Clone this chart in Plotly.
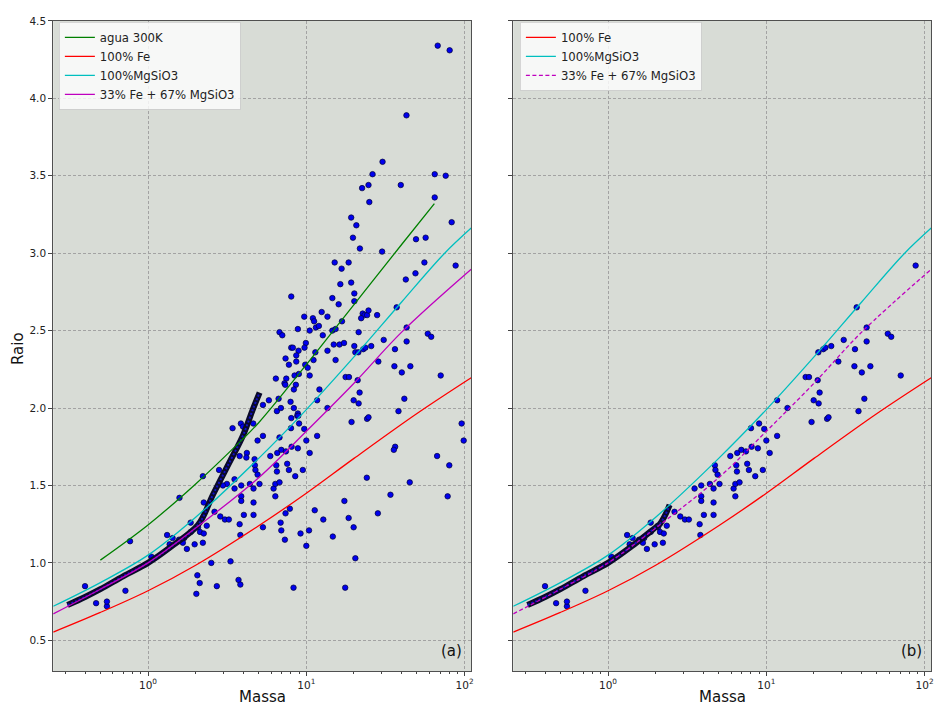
import plotly.graph_objects as go

# ---------------- data ----------------
# planets shown in both panels (rocky region)
mass_rocky = [0.40, 0.47, 0.55, 0.55, 0.72, 1.05, 1.32, 1.43, 1.57, 1.69, 1.66, 1.37, 1.76,
              1.86, 1.86, 1.97, 2.07, 2.13, 2.25, 2.22, 2.35, 2.63, 2.86, 3.06, 3.24, 3.52,
              3.88, 3.88, 3.88, 3.79, 3.83, 4.03, 4.40, 4.64, 4.64, 4.64, 4.73, 4.77, 4.92,
              5.06, 5.92, 6.21, 6.37, 6.37, 6.46, 6.52, 6.55, 6.77, 6.95, 7.43, 7.57, 7.76,
              8.07, 8.84, 8.51, 9.5, 8.0, 9.0, 9.7, 10.0, 10.5, 11.7, 11.7, 13.6, 17.7, 18.6,
              21.1, 21.7, 19.9, 21.4, 19.3, 24.2, 24.7, 21.3, 22.9, 23.6, 25.7, 30.8, 36.3,
              37.2, 43.0, 43.0, 58.5, 61.5, 87.7, 28.5, 36.0, 40.1, 45.4, 41.6, 38.2, 70.6]
radius_rocky = [0.85, 0.74, 0.72, 0.75, 0.82, 1.04, 1.18, 1.16, 1.15, 1.16, 1.13, 1.12, 1.09,
                1.26, 1.20, 1.12, 1.23, 1.20, 1.19, 1.13, 1.24, 1.33, 1.30, 1.28, 1.28, 1.48,
                1.50, 1.43, 1.40, 1.25, 1.18, 1.31, 1.51, 1.48, 1.39, 1.31, 1.63, 1.60, 1.57,
                1.51, 1.69, 1.48, 1.51, 1.43, 1.63, 1.59, 1.71, 1.52, 1.73, 1.72, 1.64, 1.60,
                1.75, 1.74, 1.56, 1.60, 1.87, 1.90, 1.865, 1.79, 1.71, 2.05, 1.82, 2.00, 2.20, 2.20,
                2.18, 2.10, 2.05, 2.03, 1.91, 1.93, 1.94, 2.36, 2.38, 2.39, 2.40, 2.44, 2.38,
                2.65, 2.52, 2.43, 2.48, 2.46, 2.92, 2.30, 2.27, 2.23, 2.27, 2.06, 1.98, 2.21]

# planets shown only in panel (a)
mass_other = [67.6, 80.4, 42.9, 30.3, 26.2, 64.7, 75.9, 22.5, 24.7, 39.5, 25.0, 64.7, 19.2,
              20.7, 82.8, 19.7, 49.3, 56.7, 21.8, 30.1, 15.1, 18.5, 55.7, 16.7, 16.4, 19.2,
              42.5, 48.9, 20.1, 14.6, 16.0, 20.1, 12.5, 13.6, 11.0, 11.2, 11.5, 12.0, 10.5,
              14.6, 15.3, 16.8, 22.7, 23.3, 24.2, 24.7, 22.2, 28.0, 21.4, 12.7, 14.9, 16.2,
              17.3, 11.4, 11.1, 13.6, 15.3, 20.1, 20.4, 10.5, 12.1, 17.4, 36.4, 35.7, 67.0,
              80.0, 24.1, 45.0, 34.0, 78.1, 95.7, 98.6, 17.6, 20.4, 19.9, 18.5, 14.7, 12.8,
              11.3, 28.3, 10.4, 10.0, 9.19, 6.88, 6.95, 7.32, 7.87, 7.39, 8.3, 5.32, 2.51,
              3.32, 2.05, 2.12, 2.02, 2.72, 3.73, 3.83, 0.77, 1.58, 2.22, 2.25, 2.81, 3.15,
              2.97, 3.52, 3.79, 4.21, 4.18, 4.71, 3.42, 3.86, 3.98, 4.62, 6.77, 5.32, 4.92,
              5.80, 6.68, 5.32, 6.52, 6.91, 7.95, 8.34, 8.84, 8.76, 8.89, 8.03, 6.42, 7.47,
              7.28, 7.36, 8.43, 8.97, 8.59, 8.34, 9.84, 10.2, 8.03, 9.70, 8.84, 6.77, 7.05,
              9.93, 9.74, 8.03, 8.22, 8.93, 8.64, 7.39, 8.64, 7.76]
radius_other = [4.34, 4.31, 3.89, 3.59, 3.51, 3.51, 3.50, 3.42, 3.44, 3.44, 3.33, 3.36, 3.23,
                3.18, 3.20, 3.10, 3.09, 3.10, 3.03, 3.01, 2.94, 2.94, 2.94, 2.90, 2.80, 2.81,
                2.83, 2.87, 2.74, 2.71, 2.67, 2.69, 2.62, 2.59, 2.58, 2.56, 2.52, 2.53, 2.50,
                2.50, 2.51, 2.56, 2.61, 2.60, 2.60, 2.63, 2.58, 2.60, 2.49, 2.47, 2.41, 2.41,
                2.42, 2.36, 2.31, 2.37, 2.31, 2.40, 2.36, 2.21, 2.12, 1.40, 1.75, 1.73, 1.69,
                1.63, 1.55, 1.52, 1.44, 1.43, 1.90, 1.79, 0.84, 1.03, 1.23, 1.29, 1.17, 1.28,
                1.34, 1.32, 1.21, 1.11, 1.19, 1.26, 1.21, 1.15, 1.35, 1.32, 0.84, 1.23, 1.00,
                1.01, 0.92, 0.87, 0.80, 0.85, 0.89, 0.86, 1.14, 1.42, 1.56, 1.39, 1.60, 1.51,
                1.50, 1.54, 1.69, 1.71, 1.68, 1.67, 1.87, 1.90, 1.88, 1.90, 1.81, 1.82, 1.79,
                2.05, 2.06, 2.02, 1.98, 2.00, 2.04, 2.00, 1.965, 1.95, 1.95, 1.935, 2.19, 2.19,
                2.16, 2.15, 2.21, 2.22, 2.15, 2.12, 2.28, 2.26, 2.72, 2.59, 2.51, 2.49, 2.47,
                2.42, 2.39, 2.39, 2.39, 2.37, 2.34, 2.32, 2.30, 2.28]

# dense model track (thick dark band)
track_a_mass = [0.31, 0.4, 0.5, 0.7, 1.0, 1.4, 2.07, 2.57, 3.28, 3.98, 4.6, 5.07]
track_a_radius = [0.728, 0.78, 0.83, 0.915, 1.0, 1.105, 1.245, 1.44, 1.652, 1.823, 1.993, 2.1]
track_b_mass = [0.31, 0.4, 0.5, 0.7, 1.0, 1.4, 2.03, 2.12, 2.3, 2.45]
track_b_radius = [0.728, 0.78, 0.83, 0.915, 1.0, 1.105, 1.235, 1.25, 1.31, 1.375]

# composition curves
water_mass = [0.5, 1.0, 2.0, 3.79, 5.0, 10.0, 20.0, 40.0, 64.4]
water_radius = [1.018, 1.245, 1.51, 1.78, 1.905, 2.28, 2.668, 3.056, 3.32]
fe_mass = [0.252, 0.5, 1.0, 2.0, 5.0, 10.0, 20.0, 50.0, 110.0]
fe_radius = [0.553, 0.68, 0.82, 0.985, 1.24, 1.45, 1.675, 1.965, 2.196]
mgsio3_mass = [0.252, 0.5, 1.0, 2.0, 5.0, 10.0, 20.0, 40.0, 74.0, 110.0]
mgsio3_radius = [0.72, 0.873, 1.05, 1.295, 1.675, 1.99, 2.33, 2.685, 2.995, 3.162]
mix_mass = [0.252, 0.5, 1.0, 2.0, 5.0, 10.0, 20.0, 40.0, 110.0]
mix_radius = [0.671, 0.83, 1.0, 1.225, 1.55, 1.85, 2.16, 2.49, 2.896]

x_tick_vals = [1, 10, 100]
x_tick_text = ["10<sup>0</sup>", "10<sup>1</sup>", "10<sup>2</sup>"]
x_minor_vals = [0.3, 0.4, 0.5, 0.6, 0.7, 0.8, 0.9, 2, 3, 4, 5, 6, 7, 8, 9,
                20, 30, 40, 50, 60, 70, 80, 90]

# ---------------- styling ----------------
FONT = "DejaVu Sans"
BG = "#d8dcd6"
PT_FILL = "#0000ee"
PT_EDGE = "#000033"
C_GREEN, C_RED, C_CYAN, C_MAG = "#008000", "#ff0000", "#00bfbf", "#bf00bf"
LW = 1.3

fig = go.Figure()


def add_points(mx, ry, xa, ya):
    fig.add_trace(go.Scatter(
        x=mx, y=ry, xaxis=xa, yaxis=ya, mode="markers", showlegend=False,
        marker=dict(size=5.5, color=PT_FILL, line=dict(color=PT_EDGE, width=0.7)),
        hoverinfo="skip"))


def add_track(mx, ry, xa, ya):
    fig.add_trace(go.Scatter(x=mx, y=ry, xaxis=xa, yaxis=ya, mode="lines",
                             line=dict(color="#0a0a2a", width=6, shape="spline"),
                             showlegend=False, hoverinfo="skip"))
    fig.add_trace(go.Scatter(x=mx, y=ry, xaxis=xa, yaxis=ya, mode="lines",
                             line=dict(color="#1010c8", width=2, shape="spline", dash="2px,2px"),
                             showlegend=False, hoverinfo="skip"))


def add_curve(mx, ry, xa, ya, name, color, legend, dash="solid"):
    fig.add_trace(go.Scatter(x=mx, y=ry, xaxis=xa, yaxis=ya, mode="lines", name=name,
                             line=dict(color=color, width=LW, shape="spline", dash=dash),
                             legend=legend, hoverinfo="skip"))


# panel (a)
add_points(mass_other, radius_other, "x", "y")
add_points(mass_rocky, radius_rocky, "x", "y")
add_track(track_a_mass, track_a_radius, "x", "y")
add_curve(water_mass, water_radius, "x", "y", "agua 300K", C_GREEN, "legend")
add_curve(fe_mass, fe_radius, "x", "y", "100% Fe", C_RED, "legend")
add_curve(mgsio3_mass, mgsio3_radius, "x", "y", "100%MgSiO3", C_CYAN, "legend")
add_curve(mix_mass, mix_radius, "x", "y", "33% Fe + 67% MgSiO3", C_MAG, "legend")

# panel (b)
add_points(mass_rocky, radius_rocky, "x2", "y2")
add_track(track_b_mass, track_b_radius, "x2", "y2")
add_curve(fe_mass, fe_radius, "x2", "y2", "100% Fe", C_RED, "legend2")
add_curve(mgsio3_mass, mgsio3_radius, "x2", "y2", "100%MgSiO3", C_CYAN, "legend2")
add_curve(mix_mass, mix_radius, "x2", "y2", "33% Fe + 67% MgSiO3", C_MAG, "legend2",
          dash="4px,2.5px")

W, H = 935, 707
L1, R1 = 53.3, 472.3
L2, R2 = 514.3, 933.3
TOP, BOT = 15.0, 671.0

grid = dict(showgrid=True, gridcolor="#a3a3a3", gridwidth=0.8, griddash="3px,2px")
frame = dict(showline=True, linecolor="#505050", linewidth=1, mirror=True, zeroline=False)
tickfont = dict(family=FONT, size=10.5, color="#222222")


def xaxis(dom, anchor):
    return dict(type="log", domain=dom, anchor=anchor, range=[-0.599, 2.042],
                tickmode="array", tickvals=x_tick_vals, ticktext=x_tick_text,
                ticks="outside", ticklen=4, tickwidth=1, tickcolor="#444444",
                tickfont=tickfont,
                minor=dict(tickmode="array", tickvals=x_minor_vals, ticks="outside",
                           ticklen=2, tickwidth=0.8, tickcolor="#444444", showgrid=False),
                **grid, **frame)


def yaxis(anchor, labels):
    return dict(domain=[(H - BOT) / H, (H - TOP) / H], anchor=anchor, range=[0.3, 4.5],
                tickmode="linear", tick0=0.5, dtick=0.5, tickformat=".1f",
                ticks="outside", ticklen=4, tickwidth=1, tickcolor="#444444",
                showticklabels=labels, tickfont=tickfont, **grid, **frame)


legend_common = dict(bgcolor="rgba(255,255,255,0.8)", bordercolor="rgba(204,204,204,0.8)",
                     borderwidth=1, font=dict(family=FONT, size=11.7, color="#222222"),
                     xanchor="left", yanchor="top", itemwidth=30, tracegroupgap=0)

fig.update_layout(
    width=W, height=H, margin=dict(l=0, r=0, t=0, b=0),
    paper_bgcolor="white", plot_bgcolor=BG,
    font=dict(family=FONT, color="#222222"),
    xaxis=xaxis([L1 / W, R1 / W], "y"),
    yaxis=yaxis("x", True),
    xaxis2=xaxis([L2 / W, R2 / W], "y2"),
    yaxis2=yaxis("x2", False),
    legend=dict(x=59 / W, y=1 - 16 / H, **legend_common),
    legend2=dict(x=521 / W, y=1 - 16 / H, **legend_common),
    showlegend=True,
    annotations=[
        dict(text="Massa", x=(L1 + R1) / 2 / W, y=1 - 697 / H, xref="paper", yref="paper",
             showarrow=False, xanchor="center", yanchor="middle",
             font=dict(family=FONT, size=15, color="#111111")),
        dict(text="Massa", x=(L2 + R2) / 2 / W, y=1 - 697 / H, xref="paper", yref="paper",
             showarrow=False, xanchor="center", yanchor="middle",
             font=dict(family=FONT, size=15, color="#111111")),
        dict(text="Raio", x=18 / W, y=1 - 345 / H, xref="paper", yref="paper",
             showarrow=False, xanchor="center", yanchor="middle", textangle=-90,
             font=dict(family=FONT, size=15, color="#111111")),
        dict(text="(a)", x=452 / W, y=1 - 651 / H, xref="paper", yref="paper",
             showarrow=False, xanchor="center", yanchor="middle",
             font=dict(family=FONT, size=15, color="#111111")),
        dict(text="(b)", x=913 / W, y=1 - 651 / H, xref="paper", yref="paper",
             showarrow=False, xanchor="center", yanchor="middle",
             font=dict(family=FONT, size=15, color="#111111")),
    ],
)

fig.write_html("out.html")
